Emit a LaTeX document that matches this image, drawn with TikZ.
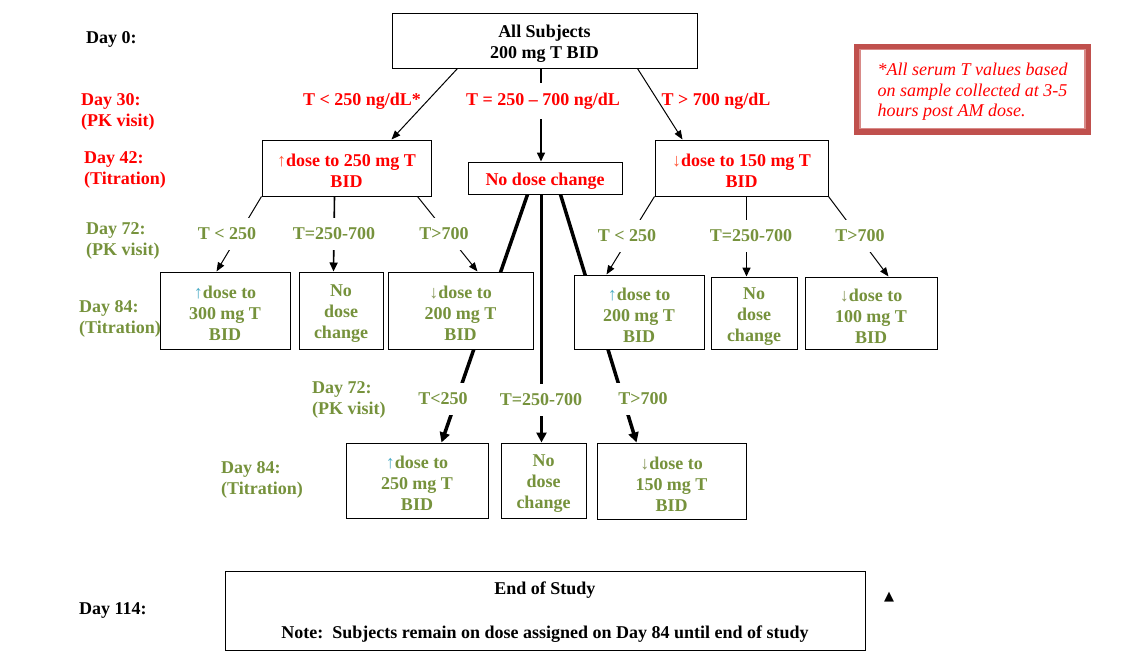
\documentclass[tikz,border=0pt]{standalone}
\usepackage{fontspec}
\setmainfont{Liberation Serif}
\newfontfamily\dejavu{DejaVu Sans}
\usetikzlibrary{arrows.meta}
\pgfdeclarelayer{background}
\pgfsetlayers{background,main}
\definecolor{olivetxt}{HTML}{76923C}
\definecolor{uparrowc}{HTML}{4BACC6}
\definecolor{dnarrowc}{HTML}{8A9A5B}
\definecolor{redarrowc}{HTML}{FF5A3C}
\definecolor{noteRed}{HTML}{C0504D}
\definecolor{noteRedLight}{HTML}{D88A88}
\newcommand{\upo}{{\color{uparrowc}\mdseries↑}}
\newcommand{\dno}{{\color{dnarrowc}\mdseries↓}}
\newcommand{\upr}{{\color{redarrowc}\mdseries↑}}
\newcommand{\dnr}{{\color{redarrowc}\mdseries↓}}
\newcommand{\tstrut}{\rule{0pt}{18.5pt}}
\begin{document}
\begin{tikzpicture}[x=1pt,y=-1pt,
  every node/.style={font=\fontsize{18}{21}\selectfont\bfseries, inner sep=0pt},
  box/.style={draw, line width=1pt, fill=white, align=center},
  daylab/.style={anchor=west, align=left},
  gaplab/.style={fill=white, inner xsep=3pt, inner ysep=9.5pt},
  thinarrow/.style={line width=1pt, -{Triangle[length=9pt,width=7pt]}},
  midarrow/.style={line width=1.6pt, -{Triangle[length=9pt,width=8pt]}},
  thickarrow/.style={line width=3.5pt, -{Triangle[length=10pt,width=10pt]}}
]
\useasboundingbox (0,0) rectangle (1144,672);

% ---- boxes ----
\node[box, minimum width=305pt, minimum height=55pt] (subj) at (544.5,40.5) {\tstrut All Subjects\\200 mg T BID};
\node[box, text=red, minimum width=169pt, minimum height=56pt] (up250) at (346.5,168) {\tstrut\upr dose to 250 mg T\\BID};
\node[box, text=red, minimum width=154pt, minimum height=32pt] (nochg) at (545,178) {\tstrut No dose change};
\node[box, text=red, minimum width=173pt, minimum height=56pt] (dn150) at (741.5,168) {\tstrut\dnr dose to 150 mg T\\BID};

\node[draw=noteRed, line width=6pt, fill=white, minimum width=231pt, minimum height=85pt,
      align=left, text=red, font=\fontsize{18}{20.5}\selectfont\itshape] (note) at (972.5,89)
      {\tstrut *All serum T values based\\on sample collected at 3-5\\hours post AM dose.};
\draw[noteRedLight, line width=1.2pt] ([shift={(6pt,-6pt)}]note.north west) rectangle ([shift={(-6pt,6pt)}]note.south east);

\node[box, text=olivetxt, minimum width=130pt, minimum height=77pt] (A) at (225,310.5) {\tstrut\upo dose to\\300 mg T\\BID};
\node[box, text=olivetxt, minimum width=84pt, minimum height=77pt] (B) at (341,310.5) {\tstrut No\\dose\\change};
\node[box, text=olivetxt, minimum width=145pt, minimum height=77pt] (C) at (460.5,310.5) {\tstrut\dno dose to\\200 mg T\\BID};
\node[box, text=olivetxt, minimum width=130pt, minimum height=74pt] (D) at (639,312) {\tstrut\upo dose to\\200 mg T\\BID};
\node[box, text=olivetxt, minimum width=86pt, minimum height=72pt] (E) at (754,313) {\tstrut No\\dose\\change};
\node[box, text=olivetxt, minimum width=132pt, minimum height=72pt] (F) at (871,313) {\tstrut\dno dose to\\100 mg T\\BID};

\node[box, text=olivetxt, minimum width=142pt, minimum height=75pt] (G) at (417,480.5) {\tstrut\upo dose to\\250 mg T\\BID};
\node[box, text=olivetxt, minimum width=85pt, minimum height=75pt] (H) at (543.5,480.5) {\tstrut No\\dose\\change};
\node[box, text=olivetxt, minimum width=149pt, minimum height=76pt] (I) at (671.5,481) {\tstrut\dno dose to\\150 mg T\\BID};

\node[box, minimum width=640pt, minimum height=79pt] (endst) at (545,610.5) {\rule{0pt}{16.5pt}End of Study\\[23pt]Note:~~Subjects remain on dose assigned on Day 84 until end of study};

% ---- connectors ----
\begin{pgfonlayer}{background}
\draw[thinarrow] ([xshift=66pt]subj.south west) -- ([xshift=130pt]up250.north west);
\draw[midarrow] ([xshift=-3.5pt]subj.south) -- ([xshift=-4pt]nochg.north);
\draw[thinarrow] ([xshift=246pt]subj.south west) -- ([xshift=28pt]dn150.north west);

\draw[thinarrow] (up250.south west) -- ([xshift=57pt]A.north west);
\draw[midarrow] ([xshift=73pt]up250.south west) -- ([xshift=35pt]B.north west);
\draw[thinarrow] ([xshift=156pt]up250.south west) -- ([xshift=90pt]C.north west);

\draw[thinarrow] (dn150.south west) -- ([xshift=33pt]D.north west);
\draw[midarrow] ([xshift=92pt]dn150.south west) -- ([xshift=36pt]E.north west);
\draw[thinarrow] (dn150.south east) -- ([xshift=84pt]F.north west);

\draw[thickarrow] ([xshift=60pt]nochg.south west) -- ([xshift=96pt]G.north west);
\draw[thickarrow] ([xshift=74pt]nochg.south west) -- ([xshift=41pt]H.north west);
\draw[thickarrow] ([xshift=93pt]nochg.south west) -- ([xshift=40pt]I.north west);
\end{pgfonlayer}

% ---- branch labels ----
\node[text=red] (l1) at (362,101) {T < 250 ng/dL*};
\node[text=red, gaplab] (l2) at (543,101) {T = 250 – 700 ng/dL};
\node[text=red] (l3) at (716,101) {T > 700 ng/dL};

\node[text=olivetxt, gaplab] (l4) at (227,234) {T < 250};
\node[text=olivetxt, gaplab] (l5) at (334,234) {T=250-700};
\node[text=olivetxt, gaplab] (l6) at (444,234) {T>700};
\node[text=olivetxt, gaplab] (l7) at (627,236) {T < 250};
\node[text=olivetxt, gaplab] (l8) at (751,236) {T=250-700};
\node[text=olivetxt, gaplab] (l9) at (860,236) {T>700};

\node[text=olivetxt, gaplab] (l10) at (443,399) {T<250};
\node[text=olivetxt, gaplab] (l11) at (541,400) {T=250-700};
\node[text=olivetxt, gaplab] (l12) at (643,399) {T>700};

% ---- day labels ----
\node[daylab] (d0) at (86,39) {Day 0:};
\node[daylab, text=red] (d30) at (81,112) {Day 30:\\(PK visit)};
\node[daylab, text=red] (d42) at (84,170) {Day 42:\\(Titration)};
\node[daylab, text=olivetxt] (d72a) at (86,240.5) {Day 72:\\(PK visit)};
\node[daylab, text=olivetxt] (d84a) at (79,319) {Day 84:\\(Titration)};
\node[daylab, text=olivetxt] (d72b) at (312,400) {Day 72:\\(PK visit)};
\node[daylab, text=olivetxt] (d84b) at (221,480) {Day 84:\\(Titration)};
\node[daylab] (d114) at (79,610) {Day 114:};

\node[font=\fontsize{13}{13}\dejavu] (tri) at (889,597) {▲};
\end{tikzpicture}
\end{document}
